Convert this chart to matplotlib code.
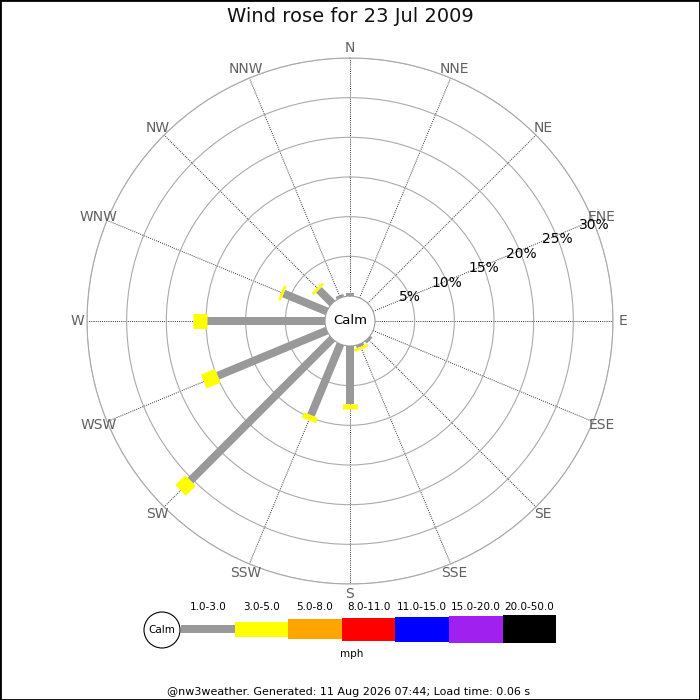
import numpy as np
import matplotlib

matplotlib.use("Agg")
import matplotlib.pyplot as plt
from matplotlib.patches import Circle, Rectangle

# --- data ---
directions = ["N", "NNE", "NE", "ENE", "E", "ESE", "SE", "SSE",
              "S", "SSW", "SW", "WSW", "W", "WNW", "NW", "NNW"]
# percent of the day in each speed class, per direction
freq_1_3 = [0.35, 0, 0, 0, 0, 0, 0.35, 0.35, 7.3, 9.7, 25.3, 14.9, 14.9, 5.9, 2.4, 0.35]
freq_3_5 = [0, 0, 0, 0, 0, 0, 0, 0.35, 0.7, 0.7, 1.75, 1.9, 1.75, 0.35, 0.35, 0]
speed_bins = ["1.0-3.0", "3.0-5.0", "5.0-8.0", "8.0-11.0", "11.0-15.0", "15.0-20.0", "20.0-50.0"]
ring_values = [5, 10, 15, 20, 25, 30]

bin_colors = ["#999999", "#ffff00", "#ffa500", "#ff0000", "#0000ff", "#a020f0", "#000000"]
bin_widths_px = [8, 15, 20, 23, 25, 27, 28]

DPI = 100
PX = 72.0 / DPI  # points per pixel


def main() -> None:
    fig = plt.figure(figsize=(7, 7), dpi=DPI)
    fig.patch.set_facecolor("white")

    # polar rose: centre at (350, 321) px, outer ring radius 263 px
    cx, cy, R = 350, 321, 263
    ax = fig.add_axes([(cx - R) / 700, (700 - cy - R) / 700, 2 * R / 700, 2 * R / 700],
                      projection="polar")
    ax.set_theta_zero_location("N")
    ax.set_theta_direction(-1)
    ax.set_ylim(0, 30)
    ax.set_rorigin(-25 / ((R - 25) / 30.0))
    ax.set_axisbelow(True)

    thetas = np.deg2rad(np.arange(16) * 22.5)
    ax.set_xticks(thetas)
    ax.set_xticklabels([])
    ax.set_yticks(ring_values)
    ax.set_yticklabels([])
    ax.xaxis.grid(True, color="#333333", linestyle=(0, (1, 1.2)), linewidth=0.7)
    ax.yaxis.grid(True, color="#aaaaaa", linestyle="-", linewidth=0.8)
    ax.spines["polar"].set_color("#aaaaaa")
    ax.spines["polar"].set_linewidth(0.8)
    ax.spines["inner"].set_color("#999999")
    ax.spines["inner"].set_linewidth(0.8)
    ax.tick_params(length=0)

    # bars: stacked speed classes as thick radial strokes
    for th, g, y in zip(thetas, freq_1_3, freq_3_5):
        start = 0.0
        for val, col, w in ((g, bin_colors[0], bin_widths_px[0]), (y, bin_colors[1], bin_widths_px[1])):
            if val > 0:
                ax.plot([th, th], [start, start + val], color=col, lw=w * PX,
                        solid_capstyle="butt", zorder=3)
                start += val

    # compass labels
    for th, name in zip(thetas, directions):
        ax.text(th, 31.2, name, ha="center", va="center", fontsize=10,
                color="#606060", clip_on=False)

    # ring labels along ENE
    for v in ring_values:
        ax.text(np.deg2rad(68.5), v, f"{v}%", ha="center", va="center",
                fontsize=10, color="black", clip_on=False, zorder=4)

    ax.text(0.5, 0.5, "Calm", transform=ax.transAxes, ha="center", va="center",
            fontsize=9.5, color="black")

    fig.text(0.5, 1 - 17 / 700, "Wind rose for 23 Jul 2009", ha="center", va="center",
             fontsize=14, color="#111111")

    # legend strip
    lax = fig.add_axes([0, 0, 1, 1])
    lax.set_xlim(0, 700)
    lax.set_ylim(700, 0)
    lax.axis("off")
    lax.patch.set_alpha(0)
    lax.add_patch(Circle((162, 630), 18, facecolor="white", edgecolor="black", lw=0.8))
    lax.text(162, 630, "Calm", ha="center", va="center", fontsize=7.5)
    seg = 53.6
    x0 = 181
    for i, (lab, col, w) in enumerate(zip(speed_bins, bin_colors, bin_widths_px)):
        lax.add_patch(Rectangle((x0 + i * seg, 629 - w / 2), seg, w, facecolor=col,
                                edgecolor="none"))
        lax.text(x0 + (i + 0.5) * seg, 607, lab, ha="center", va="center", fontsize=7.5)
    lax.text(352, 654, "mph", ha="center", va="center", fontsize=7.5)
    lax.text(349, 692, "@nw3weather. Generated: 11 Aug 2026 07:44; Load time: 0.06 s",
             ha="center", va="center", fontsize=8)

    fig.patches.append(Rectangle((0, 0), 1, 1, transform=fig.transFigure, fill=False,
                                 edgecolor="black", linewidth=2))

    fig.savefig("out.png", dpi=DPI)
    plt.close(fig)


if __name__ == "__main__":
    main()
